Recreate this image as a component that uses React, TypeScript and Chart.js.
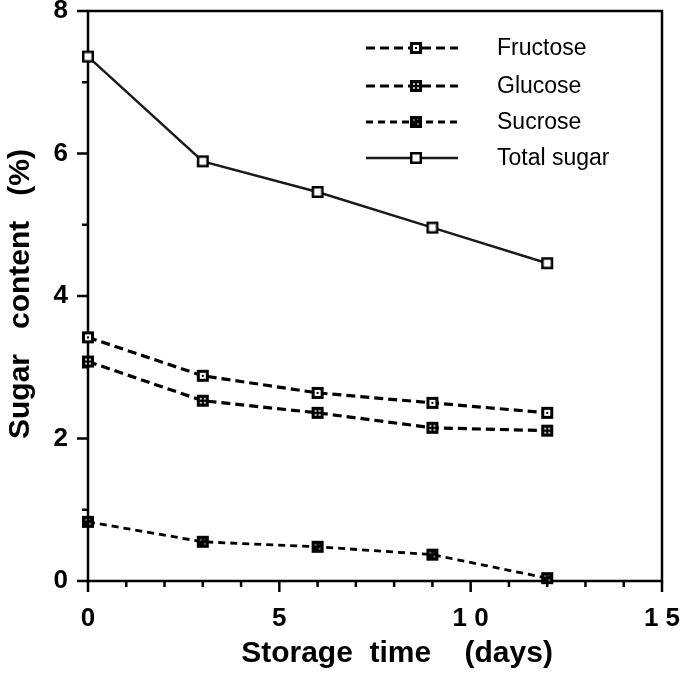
import React, { useEffect, useRef } from "react";
import { Chart, registerables } from "chart.js";
Chart.register(...registerables);

const days = [0, 3, 6, 9, 12];
const fructose = [3.42, 2.88, 2.64, 2.5, 2.36];
const glucose = [3.08, 2.53, 2.36, 2.15, 2.11];
const sucrose = [0.83, 0.55, 0.48, 0.37, 0.04];
const totalSugar = [7.36, 5.89, 5.46, 4.96, 4.46];
const seriesNames = ["Fructose", "Glucose", "Sucrose", "Total sugar"];
const xTickValues = [0, 5, 10, 15];
const xTickLabels = ["0", "5", "1 0", "1 5"];
const yTickValues = [0, 2, 4, 6, 8];
const yTickLabels = ["0", "2", "4", "6", "8"];
const xTitle = "Storage  time    (days)";
const yTitle = "Sugar   content   (%)";

const FONT = "'Liberation Sans', Arial, Helvetica, sans-serif";

function makeMarker(kind: string): HTMLCanvasElement {
  const c = document.createElement("canvas");
  c.width = 14;
  c.height = 14;
  const g = c.getContext("2d")!;
  if (kind === "total") {
    g.fillStyle = "#000";
    g.fillRect(1, 1, 12, 12);
    g.fillStyle = "#fff";
    g.fillRect(3.5, 3.5, 7, 7);
  } else if (kind === "fructose") {
    g.fillStyle = "#000";
    g.fillRect(1, 1, 12, 12);
    g.fillStyle = "#fff";
    g.fillRect(4, 4, 6, 6);
    g.fillStyle = "#000";
    g.fillRect(6, 6, 2, 2);
  } else if (kind === "glucose") {
    g.fillStyle = "#000";
    g.fillRect(1, 1, 12, 12);
    g.fillStyle = "#bbb";
    g.fillRect(4, 4, 2, 2);
    g.fillRect(8, 4, 2, 2);
    g.fillRect(4, 8, 2, 2);
    g.fillRect(8, 8, 2, 2);
  } else {
    g.fillStyle = "#000";
    g.fillRect(1, 1, 12, 12);
    g.fillStyle = "#666";
    g.fillRect(4, 4, 2, 2);
    g.fillRect(8, 8, 2, 2);
    g.fillRect(8, 4, 1, 1);
  }
  return c;
}

export default function App() {
  const ref = useRef<HTMLCanvasElement | null>(null);
  useEffect(() => {
    document.body.style.margin = "0";
    const canvas = ref.current!;
    const markers = {
      fructose: makeMarker("fructose"),
      glucose: makeMarker("glucose"),
      sucrose: makeMarker("sucrose"),
      total: makeMarker("total"),
    };
    const mk = (arr: number[]) => days.map((d, i) => ({ x: d, y: arr[i] }));

    const frameAndTicks = {
      id: "frameAndTicks",
      beforeDatasetsDraw(chart: any) {
        const { ctx, chartArea: a, scales } = chart;
        ctx.save();
        ctx.strokeStyle = "#000";
        ctx.lineWidth = 2.5;
        ctx.strokeRect(a.left, a.top, a.right - a.left, a.bottom - a.top);
        for (let v = 0; v <= 15; v++) {
          const px = scales.x.getPixelForValue(v);
          const len = v % 5 === 0 ? 11 : 6;
          ctx.beginPath();
          ctx.moveTo(px, a.bottom);
          ctx.lineTo(px, a.bottom + len);
          ctx.stroke();
        }
        for (let v = 0; v <= 8; v++) {
          const py = scales.y.getPixelForValue(v);
          const len = v % 2 === 0 ? 11 : 6;
          ctx.beginPath();
          ctx.moveTo(a.left, py);
          ctx.lineTo(a.left - len, py);
          ctx.stroke();
        }
        ctx.restore();
      },
    };

    const titlesPlugin = {
      id: "axisTitles",
      afterDraw(chart: any) {
        const { ctx, chartArea: a } = chart;
        ctx.save();
        ctx.fillStyle = "#000";
        ctx.font = `bold 30px ${FONT}`;
        ctx.textBaseline = "alphabetic";
        ctx.textAlign = "center";
        ctx.fillText(xTitle, (a.left + a.right) / 2 + 22, 662);
        ctx.translate(29, (a.top + a.bottom) / 2 - 2);
        ctx.rotate(-Math.PI / 2);
        ctx.fillText(yTitle, 0, 0);
        ctx.restore();
      },
    };

    const legendPlugin = {
      id: "customLegend",
      afterDraw(chart: any) {
        const { ctx } = chart;
        const rows = [48, 86, 122, 158];
        ctx.save();
        chart.data.datasets.forEach((ds: any, i: number) => {
          const y = rows[i];
          ctx.strokeStyle = ds.borderColor;
          ctx.lineWidth = ds.borderWidth;
          ctx.setLineDash(ds.borderDash || []);
          ctx.beginPath();
          ctx.moveTo(366, y);
          ctx.lineTo(458, y);
          ctx.stroke();
          ctx.setLineDash([]);
          ctx.drawImage(ds.pointStyle, 416 - 7, y - 7);
          ctx.fillStyle = "#000";
          ctx.font = `23px ${FONT}`;
          ctx.textBaseline = "middle";
          ctx.textAlign = "left";
          ctx.fillText(ds.label, 497, y + 1);
        });
        ctx.restore();
      },
    };

    const tickFont = { family: FONT, size: 26, weight: "bold" as const };

    const chart = new Chart(canvas, {
      type: "line",
      data: {
        datasets: [
          {
            label: seriesNames[0],
            data: mk(fructose),
            borderColor: "#000",
            borderWidth: 3.2,
            borderDash: [9, 5],
            pointStyle: markers.fructose,
            clip: false,
          },
          {
            label: seriesNames[1],
            data: mk(glucose),
            borderColor: "#000",
            borderWidth: 3.2,
            borderDash: [9, 5],
            pointStyle: markers.glucose,
            clip: false,
          },
          {
            label: seriesNames[2],
            data: mk(sucrose),
            borderColor: "#000",
            borderWidth: 2.8,
            borderDash: [7, 5],
            pointStyle: markers.sucrose,
            clip: false,
          },
          {
            label: seriesNames[3],
            data: mk(totalSugar),
            borderColor: "#1a1a1a",
            borderWidth: 2.5,
            borderDash: [],
            pointStyle: markers.total,
            clip: false,
          },
        ] as any,
      },
      options: {
        animation: false,
        responsive: true,
        maintainAspectRatio: false,
        layout: { padding: { top: 11, right: 27, left: 0, bottom: 0 } },
        plugins: { legend: { display: false }, tooltip: { enabled: false } },
        elements: { line: { tension: 0 } },
        scales: {
          x: {
            type: "linear",
            min: 0,
            max: 15,
            grid: { display: false },
            border: { display: false },
            afterBuildTicks: (s: any) => {
              s.ticks = xTickValues.map((v) => ({ value: v }));
            },
            ticks: {
              autoSkip: false,
              maxRotation: 0,
              padding: 14,
              color: "#000",
              font: tickFont,
              callback: (v: any) => xTickLabels[xTickValues.indexOf(Number(v))] ?? "",
            },
            afterFit: (s: any) => {
              s.height = 93;
              s.paddingLeft = 0;
              s.paddingRight = 0;
            },
          },
          y: {
            type: "linear",
            min: 0,
            max: 8,
            grid: { display: false },
            border: { display: false },
            afterBuildTicks: (s: any) => {
              s.ticks = yTickValues.map((v) => ({ value: v }));
            },
            ticks: {
              autoSkip: false,
              padding: 12,
              color: "#000",
              font: tickFont,
              callback: (v: any) => yTickLabels[yTickValues.indexOf(Number(v))] ?? "",
            },
            afterFit: (s: any) => {
              s.width = 88;
              s.paddingTop = 0;
              s.paddingBottom = 0;
            },
          },
        },
      } as any,
      plugins: [frameAndTicks, titlesPlugin, legendPlugin],
    });
    return () => chart.destroy();
  }, []);
  return (
    <div style={{ position: "relative", width: 689, height: 674 }}>
      <canvas ref={ref} />
    </div>
  );
}
